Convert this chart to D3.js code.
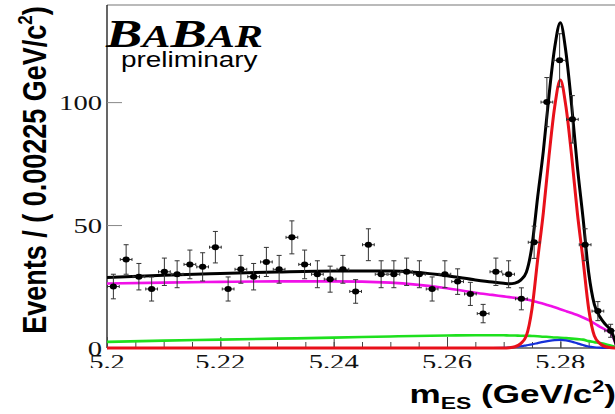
<!DOCTYPE html>
<html>
<head>
<meta charset="utf-8">
<script src="https://cdn.jsdelivr.net/npm/d3@7"></script>
<style>
  html, body { margin: 0; padding: 0; background: #fff; }
  svg { display: block; }
</style>
</head>
<body>
<svg id="chart" width="615" height="414"></svg>
<script>
// binned mES data: 40 bins of 0.00225 GeV/c^2 starting at 5.2
const binStart = 5.2
const binWidth = 0.00225
const counts = [25, 36, 29, 24, 31, 30, 34, 33, 41, 24,
                32, 29, 35, 32, 45, 34, 30, 28, 32, 23,
                42, 30, 30, 31, 30, 24, 30, 27, 22, 14,
                31, 30, 20, 43, 100, 117, 93, 42, 15, 7]

const mGrid = [5.200, 5.210, 5.220, 5.230, 5.240, 5.250, 5.260, 5.265, 5.268,
               5.270, 5.271, 5.272, 5.273, 5.274, 5.275, 5.276, 5.277, 5.278, 5.279,
               5.280, 5.281, 5.282, 5.283, 5.284, 5.285, 5.286, 5.287, 5.288, 5.289, 5.290]
const argusBkg = [26.2, 26.6, 26.9, 27.1, 27.1, 26.6, 24.3, 22.5, 21.6,
                  21.0, 20.7, 20.4, 20.1, 19.7, 19.2, 18.6, 18.0, 17.3, 16.6,
                  15.8, 15.0, 14.2, 13.4, 12.4, 11.3, 10.0, 8.6, 7.4, 5.8, 0]
const peakingBkg = [2.5, 3.0, 3.4, 3.8, 4.2, 4.7, 5.1, 5.2, 5.2,
                    5.2, 5.1, 5.1, 5.0, 5.0, 4.9, 4.8, 4.6, 4.5, 4.3,
                    4.2, 4.0, 3.8, 3.6, 3.4, 2.8, 2.4, 2.0, 1.5, 0.9, 0.3]
const blueBkg = [0, 0, 0, 0, 0, 0, 0, 0, 0,
                 0.05, 0.2, 0.4, 0.7, 1.1, 1.5, 2.0, 2.5, 2.9, 3.2,
                 3.3, 3.1, 2.6, 1.9, 1.2, 0.6, 0.3, 0.15, 0.05, 0, 0]
const signalPdf = [0, 0, 0, 0, 0, 0, 0, 0, 0,
                   0, 0.1, 0.5, 1.8, 5, 16, 36, 55, 78, 98,
                   109, 98, 78, 55, 36, 16, 5, 1.8, 0.5, 0.1, 0]
const totalPdf = [28.7, 29.6, 30.3, 30.9, 31.3, 31.3, 29.4, 27.7, 26.8,
                  26.3, 26.1, 26.4, 27.6, 30.8, 41.6, 61.4, 80.1, 102.7, 122.1,
                  132.3, 120.1, 98.6, 73.9, 53.0, 30.7, 17.7, 12.6, 9.5, 6.8, 0.3]

const xTicks = [5.2, 5.22, 5.24, 5.26, 5.28]
const xMinorTicks = [5.2, 5.205, 5.21, 5.215, 5.22, 5.225, 5.23, 5.235, 5.24, 5.245,
                     5.25, 5.255, 5.26, 5.265, 5.27, 5.275, 5.28, 5.285]
const yTicks = [0, 50, 100]

const width = 615
const height = 414

const svg = d3.select('#chart')
svg.append('rect').attr('width', width).attr('height', height).attr('fill', '#fff')

const x = d3.scaleLinear().domain([5.2, 5.29]).range([107, 617])
const y = d3.scaleLinear().domain([0, 139.5]).range([348, 5])

const defs = svg.append('defs')
defs.append('clipPath').attr('id', 'plotClip')
  .append('rect').attr('x', 107).attr('y', 3).attr('width', 512).attr('height', 348)
defs.append('clipPath').attr('id', 'labelClip')
  .append('rect').attr('x', 0).attr('y', 340).attr('width', width).attr('height', 28)

// frame
svg.append('line').attr('x1', 107).attr('x2', 617).attr('y1', 5).attr('y2', 5)
  .attr('stroke', '#777').attr('stroke-width', 1.2)
svg.append('line').attr('x1', 107).attr('x2', 107).attr('y1', 5).attr('y2', 348)
  .attr('stroke', '#000').attr('stroke-width', 1.2)
svg.append('line').attr('x1', 107).attr('x2', 617).attr('y1', 348).attr('y2', 348)
  .attr('stroke', '#000').attr('stroke-width', 1.2)

// x ticks (inside the frame)
const xMajor = svg.append('g').attr('transform', 'translate(0,348)')
  .call(d3.axisTop(x).tickValues(xTicks).tickSize(11).tickFormat(''))
const xMinor = svg.append('g').attr('transform', 'translate(0,348)')
  .call(d3.axisTop(x).tickValues(xMinorTicks).tickSize(6).tickFormat(''))
const yAxis = svg.append('g').attr('transform', 'translate(107,0)')
  .call(d3.axisRight(y).tickValues(yTicks).tickSize(15).tickFormat(''))
;[xMajor, xMinor, yAxis].forEach(g => {
  g.select('.domain').remove()
  g.selectAll('line').attr('stroke', '#444').attr('stroke-width', 1)
})
yAxis.selectAll('line').attr('stroke', '#888')

// tick labels (the picture is stretched sideways, so is the text)
const labelGroup = svg.append('g').attr('clip-path', 'url(#labelClip)')
labelGroup.selectAll('text.xlab')
  .data(xTicks)
  .enter()
  .append('text')
  .attr('class', 'xlab')
  .attr('transform', d => `translate(${x(d)},369) scale(1.3,1)`)
  .attr('text-anchor', 'middle')
  .attr('font-family', 'Liberation Serif, serif')
  .attr('font-size', 22)
  .attr('fill', '#111')
  .text(d => d3.format('.2~f')(d))

svg.selectAll('text.ylab')
  .data(yTicks)
  .enter()
  .append('text')
  .attr('class', 'ylab')
  .attr('transform', d => `translate(102,${y(d) + 7.5}) scale(1.3,1)`)
  .attr('text-anchor', 'end')
  .attr('font-family', 'Liberation Serif, serif')
  .attr('font-size', 22)
  .attr('fill', '#111')
  .text(d => d)

// axis titles
const yTitle = svg.append('text')
  .attr('transform', 'translate(46,170) rotate(-90) scale(1,1.24)')
  .attr('text-anchor', 'middle')
  .attr('font-family', 'Liberation Sans, Arial, sans-serif')
  .attr('font-weight', 'bold')
  .attr('font-size', 27)
  .attr('fill', '#000')
yTitle.append('tspan').text('Events / ( 0.00225 GeV/c')
yTitle.append('tspan').attr('font-size', 17).attr('dy', -11).text('2')
yTitle.append('tspan').attr('dy', 11).text(')')

const xTitle = svg.append('text')
  .attr('transform', 'translate(616,403) scale(1.35,1)')
  .attr('text-anchor', 'end')
  .attr('font-family', 'Liberation Sans, Arial, sans-serif')
  .attr('font-weight', 'bold')
  .attr('font-size', 26)
  .attr('fill', '#000')
xTitle.append('tspan').text('m')
xTitle.append('tspan').attr('font-size', 17).attr('dy', 6).text('ES')
xTitle.append('tspan').attr('dy', -6).text(' (GeV/c')
xTitle.append('tspan').attr('font-size', 16).attr('dy', -11).text('2')
xTitle.append('tspan').attr('dy', 11).text(')')

// BaBar logo
const logo = svg.append('text')
  .attr('transform', 'translate(106,47) scale(1.36,1)')
  .attr('font-family', 'Liberation Serif, serif')
  .attr('font-style', 'italic')
  .attr('font-weight', 'bold')
  .attr('fill', '#000')
logo.append('tspan').attr('font-size', 40).text('B')
logo.append('tspan').attr('font-size', 31).text('A')
logo.append('tspan').attr('font-size', 40).text('B')
logo.append('tspan').attr('font-size', 31).text('AR')

svg.append('text')
  .attr('transform', 'translate(121,67) scale(1.27,1)')
  .attr('font-family', 'Liberation Sans, Arial, sans-serif')
  .attr('font-size', 22)
  .attr('fill', '#000')
  .text('preliminary')

// fit curves
const plot = svg.append('g').attr('clip-path', 'url(#plotClip)')
const line = d3.line()
  .x(d => x(d[0]))
  .y(d => y(d[1]))
  .curve(d3.curveMonotoneX)

const curves = [
  { vals: peakingBkg, color: '#1ee01e', w: 2.6 },
  { vals: argusBkg, color: '#f010e8', w: 2.6 },
  { vals: blueBkg, color: '#1530d8', w: 2.2 },
  { vals: signalPdf, color: '#e8101a', w: 3 },
  { vals: totalPdf, color: '#000', w: 3 }
]
curves.forEach(c => {
  plot.append('path')
    .datum(mGrid.map((m, i) => [m, c.vals[i]]))
    .attr('d', line)
    .attr('fill', 'none')
    .attr('stroke', c.color)
    .attr('stroke-width', c.w)
    .attr('stroke-linejoin', 'round')
})

// data points with errors
const bins = counts.map((n, i) => ({
  lo: binStart + i * binWidth,
  hi: binStart + (i + 1) * binWidth,
  mid: binStart + (i + 0.5) * binWidth,
  n: n,
  err: Math.sqrt(n)
}))

const pts = plot.selectAll('g.pt')
  .data(bins)
  .enter()
  .append('g')
  .attr('class', 'pt')

pts.append('line')
  .attr('x1', d => x(d.mid)).attr('x2', d => x(d.mid))
  .attr('y1', d => y(d.n - d.err)).attr('y2', d => y(d.n + d.err))
  .attr('stroke', '#333').attr('stroke-width', 1)
pts.append('line')
  .attr('x1', d => x(d.lo) + 0.5).attr('x2', d => x(d.hi) - 0.5)
  .attr('y1', d => y(d.n)).attr('y2', d => y(d.n))
  .attr('stroke', '#333').attr('stroke-width', 1)
// small end caps
pts.append('path')
  .attr('d', d => {
    const cx = x(d.mid), t = y(d.n + d.err), b = y(d.n - d.err), cy = y(d.n)
    const l = x(d.lo) + 0.5, r = x(d.hi) - 0.5
    return `M${cx - 2.5},${t}H${cx + 2.5}M${cx - 2.5},${b}H${cx + 2.5}` +
      `M${l},${cy - 1.5}V${cy + 1.5}M${r},${cy - 1.5}V${cy + 1.5}`
  })
  .attr('stroke', '#333').attr('stroke-width', 1).attr('fill', 'none')
pts.append('ellipse')
  .attr('cx', d => x(d.mid)).attr('cy', d => y(d.n))
  .attr('rx', 3.6).attr('ry', 3)
  .attr('fill', '#000')
</script>
</body>
</html>
